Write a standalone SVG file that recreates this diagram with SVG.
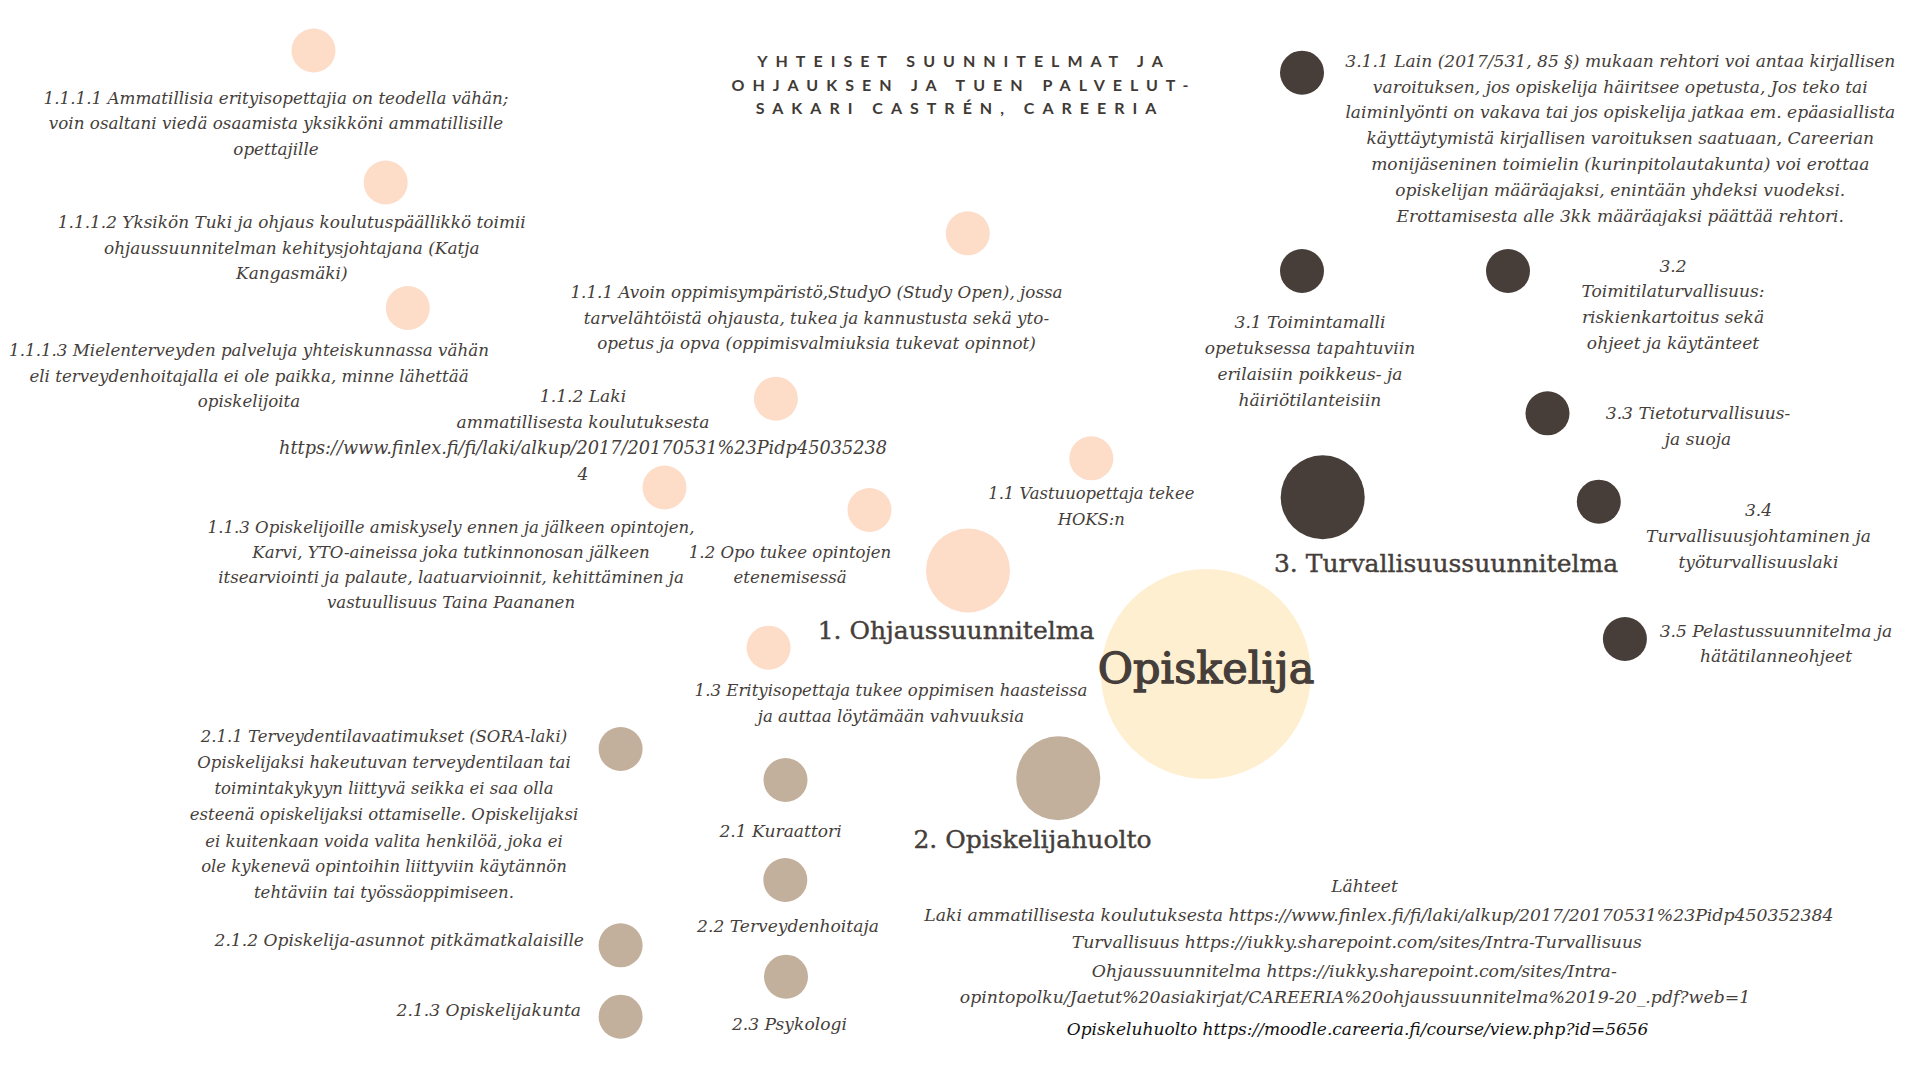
<svg xmlns="http://www.w3.org/2000/svg" width="1920" height="1080" viewBox="0 0 1920 1080">
<style>
.t{font-family:"DejaVu Serif","Liberation Serif",serif;font-style:italic;font-size:17.1px;fill:#453e3a;text-anchor:middle}
.u{font-size:17.3px}
.e{text-anchor:end}
.h{font-family:"DejaVu Serif","Liberation Serif",serif;font-size:25px;fill:#453e3a;stroke:#453e3a;stroke-width:0.4;text-anchor:middle}
.big{font-family:"DejaVu Serif","Liberation Serif",serif;font-size:43px;fill:#453e3a;stroke:#453e3a;stroke-width:1.3;text-anchor:middle}
.ti{font-family:Lato,"Open Sans",sans-serif;font-weight:700;font-size:16px;letter-spacing:8px;fill:#3f3a36;text-anchor:middle}
.p{fill:#fddcc8}
.c{fill:#ffefd1}
.b{fill:#c2b09c}
.d{fill:#473d39}
</style>
<rect width="1920" height="1080" fill="#ffffff"/>
<g id="connectors"></g>

<g id="title">
<text class="ti" x="964" y="66.7">YHTEISET SUUNNITELMAT JA</text>
<text class="ti" x="964" y="90.7">OHJAUKSEN JA TUEN PALVELUT-</text>
<text class="ti" x="960" y="114.3">SAKARI CASTRÉN, CAREERIA</text>
</g>

<g id="opiskelija">
<circle class="c" cx="1206" cy="674" r="105"/>
<text class="big" x="1206" y="683">Opiskelija</text>
</g>

<g id="n1">
<circle class="p" cx="968" cy="570.5" r="42"/>
<text class="h" x="956" y="639">1. Ohjaussuunnitelma</text>
</g>
<g id="n11">
<circle class="p" cx="1091.3" cy="458.3" r="22"/>
<text class="t" style="font-size:16.4px"><tspan x="1091.3" y="499.3">1.1 Vastuuopettaja tekee</tspan><tspan x="1091.3" y="525">HOKS:n</tspan></text>
</g>
<g id="n111">
<circle class="p" cx="967.8" cy="233.3" r="22"/>
<text class="t" style="font-size:16.8px"><tspan x="816.5" y="298.3">1.1.1 Avoin oppimisympäristö,StudyO (Study Open), jossa</tspan><tspan x="816.5" y="324">tarvelähtöistä ohjausta, tukea ja kannustusta sekä yto-</tspan><tspan x="816.5" y="349.3">opetus ja opva (oppimisvalmiuksia tukevat opinnot)</tspan></text>
</g>
<g id="n1111">
<circle class="p" cx="313.5" cy="50.5" r="22"/>
<text class="t" style="font-size:16.75px"><tspan x="276" y="104">1.1.1.1 Ammatillisia erityisopettajia on teodella vähän;</tspan><tspan x="276" y="129.3">voin osaltani viedä osaamista yksikköni ammatillisille</tspan><tspan x="276" y="155">opettajille</tspan></text>
</g>
<g id="n1112">
<circle class="p" cx="385.7" cy="182.5" r="22"/>
<text class="t" style="font-size:16.9px"><tspan x="291.8" y="228.3">1.1.1.2 Yksikön Tuki ja ohjaus koulutuspäällikkö toimii</tspan><tspan x="291.8" y="254">ohjaussuunnitelman kehitysjohtajana (Katja</tspan><tspan x="291.8" y="279.3">Kangasmäki)</tspan></text>
</g>
<g id="n1113">
<circle class="p" cx="407.8" cy="308" r="22"/>
<text class="t" style="font-size:16.7px"><tspan x="249" y="356">1.1.1.3 Mielenterveyden palveluja yhteiskunnassa vähän</tspan><tspan x="249" y="381.7">eli terveydenhoitajalla ei ole paikka, minne lähettää</tspan><tspan x="249" y="407.3">opiskelijoita</tspan></text>
</g>
<g id="n112">
<circle class="p" cx="775.9" cy="398.7" r="22"/>
<text class="t"><tspan x="583" y="402.3">1.1.2 Laki</tspan><tspan x="583" y="427.7">ammatillisesta koulutuksesta</tspan><tspan style="font-size:17.7px" x="583" y="453.5">https://www.finlex.fi/fi/laki/alkup/2017/20170531%23Pidp45035238</tspan><tspan x="583" y="480">4</tspan></text>
</g>
<g id="n113">
<circle class="p" cx="664.5" cy="487.5" r="22"/>
<text class="t" style="font-size:16.6px"><tspan x="451" y="533.3">1.1.3 Opiskelijoille amiskysely ennen ja jälkeen opintojen,</tspan><tspan x="451" y="558.3">Karvi, YTO-aineissa joka tutkinnonosan jälkeen</tspan><tspan x="451" y="583.3">itsearviointi ja palaute, laatuarvioinnit, kehittäminen ja</tspan><tspan x="451" y="608.3">vastuullisuus Taina Paananen</tspan></text>
</g>
<g id="n12">
<circle class="p" cx="869.5" cy="510" r="22"/>
<text class="t" style="font-size:16.6px"><tspan x="790" y="558.3">1.2 Opo tukee opintojen</tspan><tspan x="790" y="583.3">etenemisessä</tspan></text>
</g>
<g id="n13">
<circle class="p" cx="768.6" cy="647.7" r="22"/>
<text class="t" style="font-size:16.6px"><tspan x="891" y="696">1.3 Erityisopettaja tukee oppimisen haasteissa</tspan><tspan x="891" y="721.7">ja auttaa löytämään vahvuuksia</tspan></text>
</g>

<g id="n2">
<circle class="b" cx="1058.3" cy="778.3" r="42"/>
<text class="h" x="1032.5" y="848">2. Opiskelijahuolto</text>
</g>
<g id="n21">
<circle class="b" cx="785.5" cy="780" r="22"/>
<text class="t" x="780.6" y="837.3">2.1 Kuraattori</text>
</g>
<g id="n22">
<circle class="b" cx="785.3" cy="880" r="22"/>
<text class="t" x="788" y="931.7">2.2 Terveydenhoitaja</text>
</g>
<g id="n23">
<circle class="b" cx="786" cy="976.7" r="22"/>
<text class="t" x="789.4" y="1030">2.3 Psykologi</text>
</g>
<g id="n211">
<circle class="b" cx="620.6" cy="749" r="22"/>
<text class="t" style="font-size:16.5px"><tspan x="384" y="742.3">2.1.1 Terveydentilavaatimukset (SORA-laki)</tspan><tspan x="384" y="768.3">Opiskelijaksi hakeutuvan terveydentilaan tai</tspan><tspan x="384" y="794.3">toimintakykyyn liittyvä seikka ei saa olla</tspan><tspan x="384" y="820">esteenä opiskelijaksi ottamiselle. Opiskelijaksi</tspan><tspan x="384" y="846.7">ei kuitenkaan voida valita henkilöä, joka ei</tspan><tspan x="384" y="872.3">ole kykenevä opintoihin liittyviin käytännön</tspan><tspan x="384" y="898.3">tehtäviin tai työssäoppimiseen.</tspan></text>
</g>
<g id="n212">
<circle class="b" cx="620.6" cy="945.3" r="22"/>
<text class="t e" x="584" y="946">2.1.2 Opiskelija-asunnot pitkämatkalaisille</text>
</g>
<g id="n213">
<circle class="b" cx="620.6" cy="1016.7" r="22"/>
<text class="t e" x="581" y="1016">2.1.3 Opiskelijakunta</text>
</g>

<g id="n3">
<circle class="d" cx="1322.7" cy="497.3" r="42"/>
<text class="h" x="1446" y="571.7">3. Turvallisuussuunnitelma</text>
</g>
<g id="n31">
<circle class="d" cx="1302" cy="271" r="22"/>
<text class="t"><tspan x="1310" y="328.3">3.1 Toimintamalli</tspan><tspan x="1310" y="354.3">opetuksessa tapahtuviin</tspan><tspan x="1310" y="380">erilaisiin poikkeus- ja</tspan><tspan x="1310" y="406">häiriötilanteisiin</tspan></text>
</g>
<g id="n311">
<circle class="d" cx="1302" cy="72.7" r="22"/>
<text class="t"><tspan x="1620.3" y="66.7">3.1.1 Lain (2017/531, 85 §) mukaan rehtori voi antaa kirjallisen</tspan><tspan x="1620.3" y="92.7">varoituksen, jos opiskelija häiritsee opetusta, Jos teko tai</tspan><tspan x="1620.3" y="118.3">laiminlyönti on vakava tai jos opiskelija jatkaa em. epäasiallista</tspan><tspan x="1620.3" y="144.3">käyttäytymistä kirjallisen varoituksen saatuaan, Careerian</tspan><tspan x="1620.3" y="170">monijäseninen toimielin (kurinpitolautakunta) voi erottaa</tspan><tspan x="1620.3" y="196">opiskelijan määräajaksi, enintään yhdeksi vuodeksi.</tspan><tspan x="1620.3" y="221.7">Erottamisesta alle 3kk määräajaksi päättää rehtori.</tspan></text>
</g>
<g id="n32">
<circle class="d" cx="1508" cy="271" r="22"/>
<text class="t"><tspan x="1673" y="271.7">3.2</tspan><tspan x="1673" y="297.3">Toimitilaturvallisuus:</tspan><tspan x="1673" y="323.3">riskienkartoitus sekä</tspan><tspan x="1673" y="349.3">ohjeet ja käytänteet</tspan></text>
</g>
<g id="n33">
<circle class="d" cx="1547.5" cy="413.3" r="22"/>
<text class="t"><tspan x="1698" y="419.3">3.3 Tietoturvallisuus-</tspan><tspan x="1698" y="445">ja suoja</tspan></text>
</g>
<g id="n34">
<circle class="d" cx="1598.8" cy="501.7" r="22"/>
<text class="t"><tspan x="1758.5" y="516">3.4</tspan><tspan x="1758.5" y="541.7">Turvallisuusjohtaminen ja</tspan><tspan x="1758.5" y="567.7">työturvallisuuslaki</tspan></text>
</g>
<g id="n35">
<circle class="d" cx="1624.9" cy="639" r="22"/>
<text class="t"><tspan x="1776" y="636.7">3.5 Pelastussuunnitelma ja</tspan><tspan x="1776" y="661.7">hätätilanneohjeet</tspan></text>
</g>

<g id="sources">
<text class="t"><tspan x="1364.5" y="891.7">Lähteet</tspan><tspan class="u" x="1378.8" y="920.7">Laki ammatillisesta koulutuksesta https://www.finlex.fi/fi/laki/alkup/2017/20170531%23Pidp450352384</tspan><tspan class="u" x="1356.8" y="948.3">Turvallisuus https://iukky.sharepoint.com/sites/Intra-Turvallisuus</tspan><tspan class="u" x="1354.3" y="976.7">Ohjaussuunnitelma https://iukky.sharepoint.com/sites/Intra-</tspan><tspan class="u" x="1355" y="1003.3">opintopolku/Jaetut%20asiakirjat/CAREERIA%20ohjaussuunnitelma%2019-20_.pdf?web=1</tspan></text>
<text class="t" style="fill:#111;font-size:17px" x="1357.6" y="1035">Opiskeluhuolto https://moodle.careeria.fi/course/view.php?id=5656</text>
</g>
</svg>
